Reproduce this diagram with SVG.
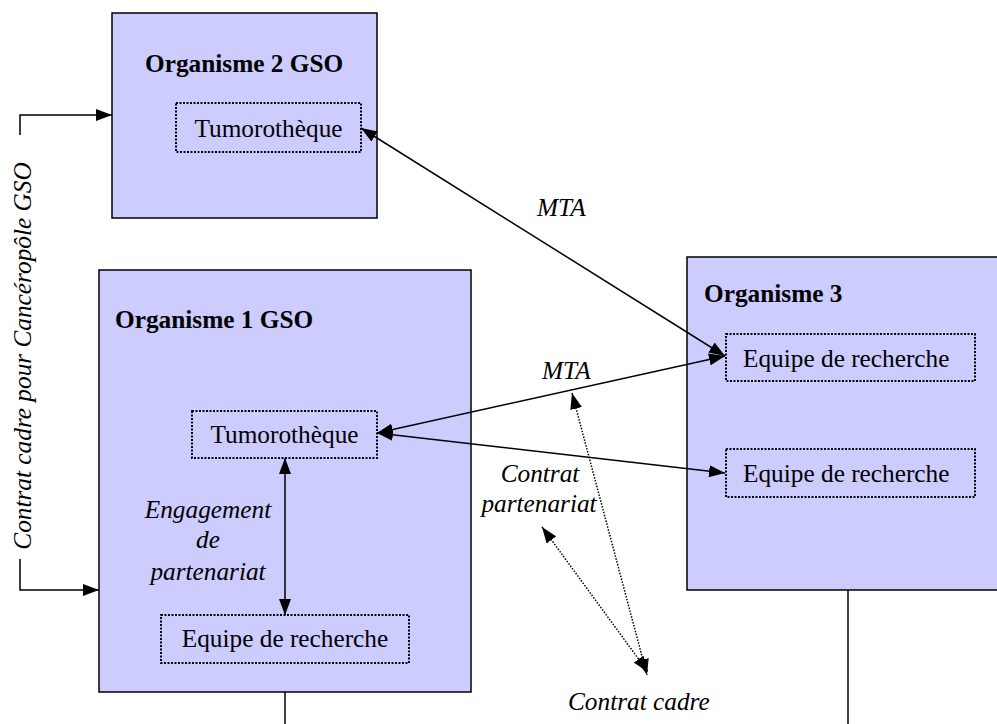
<svg xmlns="http://www.w3.org/2000/svg" width="997" height="724" viewBox="0 0 997 724">
<style>
.org{fill:#ccccff;stroke:#000;stroke-width:1.5}
.inner{fill:none;stroke:#000;stroke-width:2;stroke-dasharray:2,1.5}
.t{font-family:'Liberation Serif','Times New Roman',Times,Tinos,'DejaVu Serif',serif;font-size:25.3px;fill:#000}
.b{font-weight:bold}
.i{font-style:italic}
.c{text-anchor:middle}
.ln{fill:none;stroke:#000;stroke-width:1.5}
.dot{fill:none;stroke:#000;stroke-width:1.5;stroke-dasharray:1.5,1.5}
</style>
<defs>
<marker id="ah" viewBox="0 0 16 12" refX="16" refY="6" markerWidth="16" markerHeight="12" markerUnits="userSpaceOnUse" orient="auto-start-reverse">
<path d="M0,0 L16,6 L0,12 z" fill="#000"/>
</marker>
</defs>
<g id="org2">
<rect class="org" x="112" y="13" width="265" height="205"/>
<text class="t b" x="145" y="72">Organisme 2 GSO</text>
<rect class="inner" x="176" y="103" width="185" height="49"/>
<text class="t c" x="268.5" y="137">Tumorothèque</text>
</g>
<g id="org1">
<rect class="org" x="99" y="270" width="372" height="422"/>
<text class="t b" x="115" y="328">Organisme 1 GSO</text>
<rect class="inner" x="192" y="411" width="185" height="47"/>
<text class="t c" x="284.5" y="443">Tumorothèque</text>
<rect class="inner" x="161" y="615" width="248" height="48"/>
<text class="t c" x="285" y="647">Equipe de recherche</text>
</g>
<g id="org3">
<rect class="org" x="687" y="257" width="320" height="333"/>
<text class="t b" x="704" y="302">Organisme 3</text>
<rect class="inner" x="726" y="334" width="249" height="47"/>
<text class="t" x="743" y="367">Equipe de recherche</text>
<rect class="inner" x="726" y="449" width="249" height="48"/>
<text class="t" x="743" y="482">Equipe de recherche</text>
</g>
<g id="connectors">
<polyline class="ln" points="20,135 20,115 112,115" marker-end="url(#ah)"/>
<polyline class="ln" points="20,559 20,590 99,590" marker-end="url(#ah)"/>
<line class="ln" x1="361" y1="128" x2="725" y2="356" marker-start="url(#ah)" marker-end="url(#ah)"/>
<line class="ln" x1="377" y1="433" x2="725" y2="356" marker-start="url(#ah)" marker-end="url(#ah)"/>
<line class="ln" x1="377" y1="433" x2="725" y2="473" marker-start="url(#ah)" marker-end="url(#ah)"/>
<line class="ln" x1="285" y1="458" x2="285" y2="615" marker-start="url(#ah)" marker-end="url(#ah)"/>
<line class="dot" x1="572" y1="393" x2="647" y2="675" marker-start="url(#ah)" marker-end="url(#ah)"/>
<line class="dot" x1="542" y1="527" x2="648" y2="672" marker-start="url(#ah)" marker-end="url(#ah)"/>
<line class="ln" x1="285" y1="692" x2="285" y2="724"/>
<line class="ln" x1="848" y1="590" x2="848" y2="724"/>
</g>
<g id="labels">
<text class="t i" transform="translate(31,356) rotate(-90)" text-anchor="middle">Contrat cadre pour Cancéropôle GSO</text>
<text class="t i" x="537" y="216">MTA</text>
<text class="t i" x="542" y="379">MTA</text>
<text class="t i c" x="540" y="482">Contrat</text>
<text class="t i c" x="539" y="512">partenariat</text>
<text class="t i c" x="208" y="518">Engagement</text>
<text class="t i c" x="208" y="548">de</text>
<text class="t i c" x="208" y="580">partenariat</text>
<text class="t i" x="568" y="710">Contrat cadre</text>
</g>
</svg>
